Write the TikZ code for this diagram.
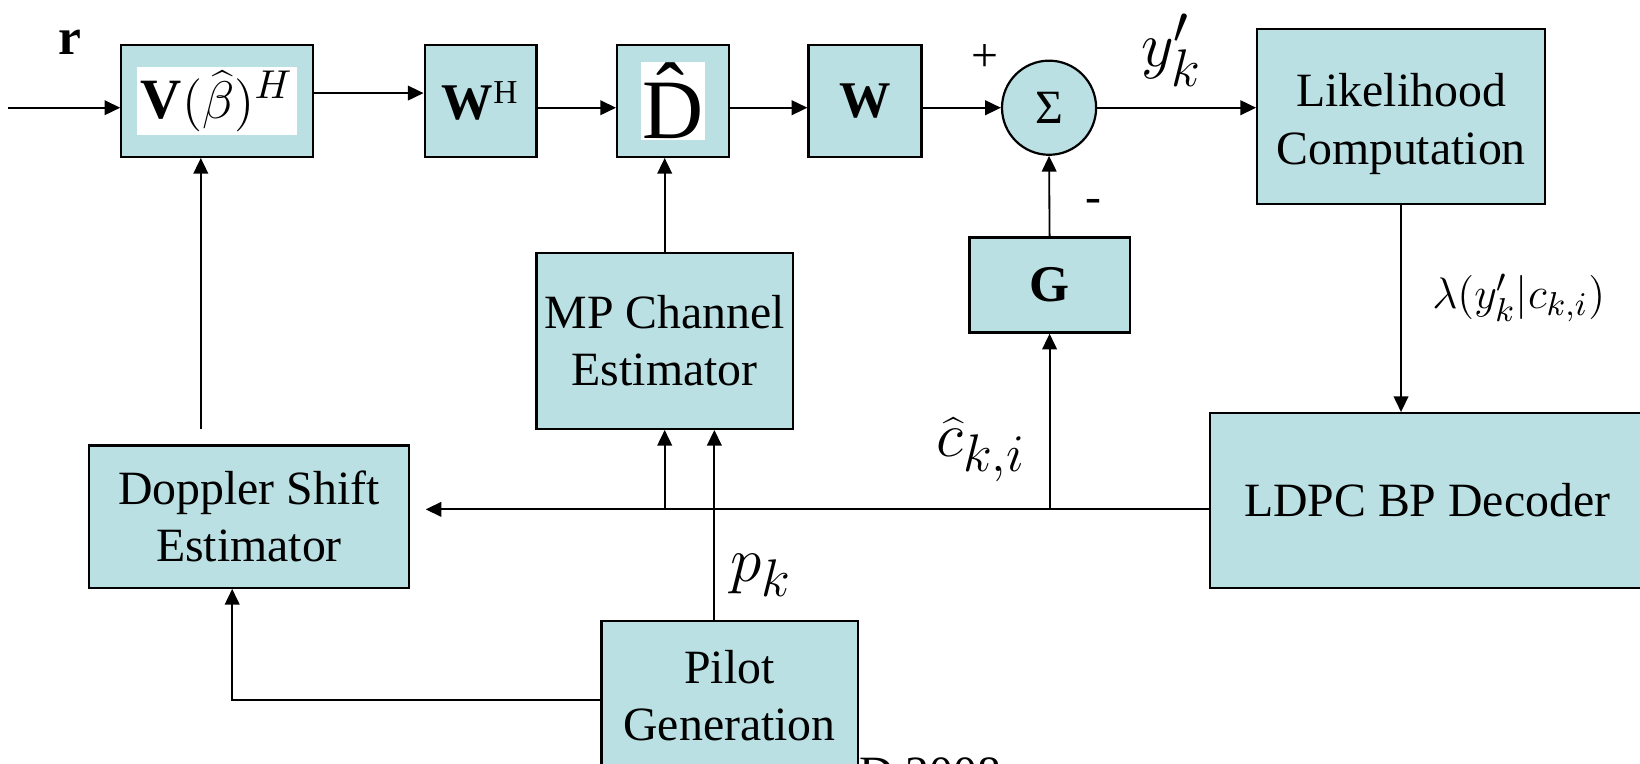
\documentclass[tikz,border=0pt]{standalone}
\usepackage{fontspec}
\setmainfont{Liberation Serif}
\usetikzlibrary{arrows.meta}
\definecolor{boxfill}{RGB}{186,224,227}

\begin{document}
\begin{tikzpicture}[
  blk/.style={draw, fill=boxfill, line width=0.6pt, inner sep=0pt, align=center,
              font=\fontsize{13}{15.6}\selectfont},
  arr/.style={-{Triangle[length=1.5mm,width=1.4mm]}, line width=0.5pt},
  lbl/.style={inner sep=0pt},
  big/.style={inner sep=0pt, font=\fontsize{19}{23}\selectfont}
]
\clip (0,0) rectangle (15.68,7.30);

% Top row: V, W^H, D, W, sum
\node[lbl, font=\fontsize{14}{17}\selectfont\bfseries] (rlab) at (0.67,6.90) {r};
\node[blk, minimum width=1.83cm, minimum height=1.07cm] (vbox) at (2.075,6.335)
  {\setlength{\fboxsep}{1pt}\colorbox{white}{\fontsize{15.5}{18}\selectfont$\mathbf{V}(\widehat{\beta})^{H}$}};
\node[blk, minimum width=1.07cm, minimum height=1.07cm] (wh) at (4.595,6.335)
  {{\fontsize{14}{17}\selectfont\bfseries W}$^{\mathrm{H}}$};
\node[blk, minimum width=1.07cm, minimum height=1.07cm] (dhat) at (6.435,6.335)
  {\setlength{\fboxsep}{0.3pt}\colorbox{white}{\fontsize{23}{27}\selectfont\^{D}}};
\node[blk, minimum width=1.08cm, minimum height=1.07cm] (w) at (8.27,6.335)
  {\fontsize{14}{17}\selectfont\bfseries W};
\node[blk, circle, minimum size=0.90cm] (sum) at (10.03,6.27) {Σ};
\node[lbl, font=\fontsize{13}{15}\selectfont] (plus) at (9.42,6.75) {+};
\node[lbl, font=\fontsize{13}{15}\selectfont] (minus) at (10.45,5.33) {-};
\node[big] (yk) at (11.20,6.82) {$y'_k$};

% Likelihood and decoder
\node[blk, minimum width=2.75cm, minimum height=1.67cm] (lik) at (13.395,6.185)
  {\raisebox{-2pt}[\height][\depth]{\begin{tabular}{@{}c@{}}Likelihood\\Computation\end{tabular}}};
\node[blk, minimum width=4.15cm, minimum height=1.67cm] (ldpc) at (13.645,2.515)
  {LDPC BP Decoder};
\node[lbl, font=\fontsize{12.5}{15}\selectfont] (lam) at (14.52,4.45) {$\lambda(y'_k|c_{k,i})$};

% Estimators
\node[blk, minimum width=1.53cm, minimum height=0.91cm] (gmat) at (10.035,4.575)
  {\fontsize{14}{17}\selectfont\bfseries G};
\node[blk, minimum width=2.45cm, minimum height=1.68cm] (mpce) at (6.355,4.04)
  {MP Channel\\Estimator};
\node[blk, minimum width=3.06cm, minimum height=1.36cm] (dse) at (2.38,2.36)
  {Doppler Shift\\Estimator};
\node[blk, minimum width=2.45cm, minimum height=1.42cm] (pg) at (6.975,0.65)
  {Pilot\\Generation};
\node[big] (chat) at (9.38,3.00) {$\widehat{c}_{k,i}$};
\node[big] (pk) at (7.28,1.80) {$p_k$};
\node[lbl, anchor=north west, font=\fontsize{13}{15.6}\selectfont] (date) at (8.21,0.06) {D 2008};

% Forward path
\coordinate (rin) at (0.08,6.27);
\draw[arr] (rin) -- (rin -| vbox.west);
\draw[arr] ([yshift=0.75mm]vbox.east) -- ([yshift=0.75mm]wh.west);
\draw[arr] (wh.east |- sum) -- (dhat.west |- sum);
\draw[arr] (dhat.east |- sum) -- (w.west |- sum);
\draw[arr] (w.east |- sum) -- (sum.west);
\draw[arr] (sum.east) -- (sum -| lik.west);
\draw[arr] (lik.south) -- (lik.south |- ldpc.north);

% Feedback from decoder
\coordinate (fbend) at (4.07,2.43);
\draw[arr] (ldpc.west |- fbend) -- (fbend);
\draw[arr] (gmat.south |- fbend) -- (gmat.south);
\draw[arr] (mpce.south |- fbend) -- (mpce.south);
\draw[arr] (gmat.north) -- (sum.south);
\draw[arr] (mpce.north) -- (mpce.north |- dhat.south);

% Pilots and Doppler
\draw[arr] ([xshift=-1.45mm]pg.north) -- ([xshift=-1.45mm]pg.north |- mpce.south);
\draw[arr] ([yshift=-0.4mm]pg.west) -| ([xshift=-1.6mm]dse.south);
\coordinate (dtop) at (1.92,3.20);
\draw[arr] (dtop) -- (dtop |- vbox.south);

\end{tikzpicture}
\end{document}
